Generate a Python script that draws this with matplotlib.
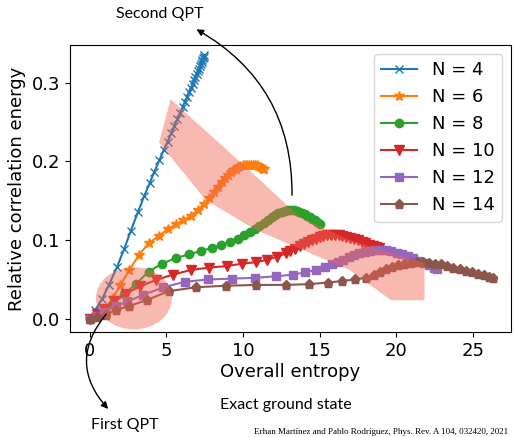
import matplotlib
matplotlib.use("Agg")
import matplotlib.pyplot as plt
from matplotlib.patches import Polygon, Ellipse, FancyArrowPatch

# ── datos ────────────────────────────────────────────────────────────────────
x4 = [0.00, 0.35, 0.80, 1.25, 1.78, 2.25, 2.68, 3.15, 3.55, 3.90, 4.22, 4.55, 4.82, 5.08,
      5.32, 5.53, 5.72, 5.90, 6.06, 6.21, 6.35, 6.48, 6.60, 6.71, 6.81, 6.90, 6.98, 7.06,
      7.13, 7.19, 7.25, 7.30, 7.35, 7.39, 7.43, 7.46]
y4 = [0.000, 0.011, 0.025, 0.043, 0.066, 0.089, 0.112, 0.136, 0.156, 0.172, 0.187, 0.202,
      0.214, 0.225, 0.236, 0.245, 0.254, 0.262, 0.269, 0.276, 0.282, 0.288, 0.293, 0.298,
      0.303, 0.307, 0.311, 0.315, 0.318, 0.321, 0.324, 0.327, 0.329, 0.331, 0.333, 0.335]

x6 = [0.00, 0.45, 1.00, 1.50, 2.00, 2.58, 3.20, 3.85, 4.50, 5.10, 5.62, 6.10, 6.60, 7.05,
      7.45, 7.80, 8.10, 8.36, 8.60, 8.82, 9.02, 9.20, 9.37, 9.53, 9.68, 9.83, 9.98, 10.12,
      10.26, 10.40, 10.53, 10.66, 10.78, 10.90, 11.01, 11.12, 11.22, 11.32, 11.40]
y6 = [0.000, 0.006, 0.013, 0.026, 0.043, 0.062, 0.081, 0.096, 0.105, 0.114, 0.120, 0.125,
      0.131, 0.138, 0.146, 0.153, 0.161, 0.168, 0.174, 0.179, 0.183, 0.186, 0.189, 0.191,
      0.193, 0.194, 0.195, 0.196, 0.196, 0.196, 0.196, 0.196, 0.195, 0.195, 0.194, 0.193,
      0.192, 0.191, 0.190]

x8 = [0.00, 0.50, 1.00, 1.50, 2.22, 3.00, 3.84, 4.72, 5.60, 6.48, 7.24, 7.95, 8.58, 9.15,
      9.65, 10.08, 10.45, 10.78, 11.08, 11.36, 11.62, 11.87, 12.10, 12.32, 12.53, 12.73,
      12.93, 13.12, 13.31, 13.50, 13.68, 13.86, 14.03, 14.20, 14.37, 14.53, 14.69, 14.85, 15.00]
y8 = [0.000, 0.004, 0.010, 0.019, 0.031, 0.044, 0.060, 0.070, 0.077, 0.082, 0.086, 0.090,
      0.094, 0.098, 0.102, 0.106, 0.110, 0.114, 0.118, 0.122, 0.126, 0.129, 0.132, 0.134,
      0.136, 0.137, 0.138, 0.138, 0.138, 0.137, 0.136, 0.135, 0.133, 0.131, 0.129, 0.127,
      0.125, 0.123, 0.121]

x10 = [0.00, 0.45, 0.92, 1.60, 2.35, 3.25, 4.30, 5.40, 6.60, 7.80, 8.95, 9.95, 10.85, 11.60,
       12.25, 12.80, 13.10, 13.40, 13.70, 14.00, 14.25, 14.50, 14.75, 15.00, 15.25, 15.50,
       15.75, 16.00, 16.25, 16.50, 16.75, 17.00, 17.25, 17.50, 17.75, 18.00, 18.25, 18.50,
       18.70, 18.90]
y10 = [0.000, 0.006, 0.013, 0.022, 0.032, 0.041, 0.049, 0.056, 0.062, 0.065, 0.067, 0.070,
       0.072, 0.075, 0.079, 0.083, 0.086, 0.089, 0.092, 0.095, 0.098, 0.100, 0.102, 0.104,
       0.105, 0.106, 0.106, 0.106, 0.106, 0.105, 0.104, 0.103, 0.101, 0.100, 0.098, 0.096,
       0.094, 0.093, 0.091, 0.090]

x12 = [0.00, 0.45, 0.95, 1.70, 2.45, 3.45, 4.80, 6.20, 7.75, 9.30, 10.80, 12.15, 13.25, 14.05,
       14.75, 15.35, 15.80, 16.20, 16.55, 16.90, 17.25, 17.60, 17.95, 18.30, 18.65, 19.00,
       19.35, 19.70, 20.05, 20.40, 20.75, 21.10, 21.45, 21.80, 22.15, 22.45, 22.65]
y12 = [0.000, 0.004, 0.009, 0.016, 0.022, 0.030, 0.040, 0.047, 0.050, 0.051, 0.052, 0.054,
       0.056, 0.059, 0.062, 0.066, 0.069, 0.072, 0.075, 0.078, 0.081, 0.083, 0.085, 0.086,
       0.087, 0.087, 0.087, 0.086, 0.084, 0.082, 0.080, 0.077, 0.074, 0.071, 0.068, 0.065, 0.063]

x14 = [0.00, 0.45, 1.03, 1.68, 2.55, 3.75, 5.15, 6.92, 8.88, 10.88, 12.78, 14.30, 15.55, 16.50,
       17.35, 18.02, 18.55, 18.95, 19.35, 19.75, 20.15, 20.55, 20.95, 21.35, 21.75, 22.15,
       22.55, 22.95, 23.35, 23.75, 24.15, 24.55, 24.95, 25.35, 25.75, 26.05, 26.30]
y14 = [0.000, 0.002, 0.005, 0.011, 0.016, 0.024, 0.035, 0.040, 0.042, 0.043, 0.043, 0.044,
       0.046, 0.048, 0.050, 0.052, 0.056, 0.060, 0.063, 0.066, 0.068, 0.070, 0.071, 0.072,
       0.072, 0.071, 0.070, 0.069, 0.067, 0.065, 0.063, 0.061, 0.059, 0.057, 0.055, 0.053, 0.052]

labels = ["N = 4", "N = 6", "N = 8", "N = 10", "N = 12", "N = 14"]
markers = ["x", "*", "o", "v", "s", "p"]
msizes = [6, 7.5, 6, 6.5, 6, 6.5]

# zonas resaltadas (coordenadas de datos)
band_x = [5.28, 10.41, 13.68, 16.95, 19.11, 21.86, 21.86, 19.68, 16.95, 10.84, 7.57, 4.52]
band_y = [0.279, 0.189, 0.130, 0.100, 0.087, 0.071, 0.0235, 0.0235, 0.062, 0.113, 0.151, 0.224]

fig = plt.figure(figsize=(5.14, 4.37), dpi=100)
ax = fig.add_axes([0.136, 0.240, 0.858, 0.657])

series = [(x4, y4), (x6, y6), (x8, y8), (x10, y10), (x12, y12), (x14, y14)]
for (xs, ys), lab, mk, ms in zip(series, labels, markers, msizes):
    ax.plot(xs, ys, marker=mk, ms=ms, lw=1.5, label=lab)

ax.add_patch(Polygon(list(zip(band_x, band_y)), closed=True, fc="#F06450", ec="none",
                     alpha=0.45, zorder=5))
ax.add_patch(Ellipse((2.88, 0.026), 4.97, 0.079, fc="#F06450", ec="none", alpha=0.45, zorder=5))

ax.set_xlim(-1.3, 27.5)
ax.set_ylim(-0.017, 0.348)
ax.set_xticks([0, 5, 10, 15, 20, 25])
ax.set_yticks([0.0, 0.1, 0.2, 0.3])
ax.tick_params(labelsize=13)
ax.set_xlabel("Overall entropy", fontsize=13, labelpad=2)
ax.set_ylabel("Relative correlation energy", fontsize=13)
ax.legend(loc="upper right", fontsize=13, labelspacing=0.5)

# anotaciones
def px(x, y):
    return (x / 514, 1 - y / 437)

ann = dict(family="Lato", fontsize=11.5)
fig.text(*px(116, 14), "Second QPT", ha="left", va="center", **ann)
fig.text(*px(220, 405), "Exact ground state", ha="left", va="center", **ann)
fig.text(*px(91, 425), "First QPT", ha="left", va="center", **ann)
fig.text(*px(508, 436), "Erhan Martínez and Pablo Rodríguez, Phys. Rev. A 104, 032420, 2021",
         ha="right", va="bottom", family="Liberation Serif", fontsize=6.5)

fig.patches.append(FancyArrowPatch(px(292, 198), px(194, 28), transform=fig.transFigure,
                                   connectionstyle="arc3,rad=0.3", arrowstyle="-|>",
                                   mutation_scale=10, lw=1, color="black"))
fig.patches.append(FancyArrowPatch(px(108, 312), px(110, 411), transform=fig.transFigure,
                                   connectionstyle="arc3,rad=0.45", arrowstyle="-|>",
                                   mutation_scale=10, lw=1, color="black"))

fig.savefig("out.png", dpi=100)
